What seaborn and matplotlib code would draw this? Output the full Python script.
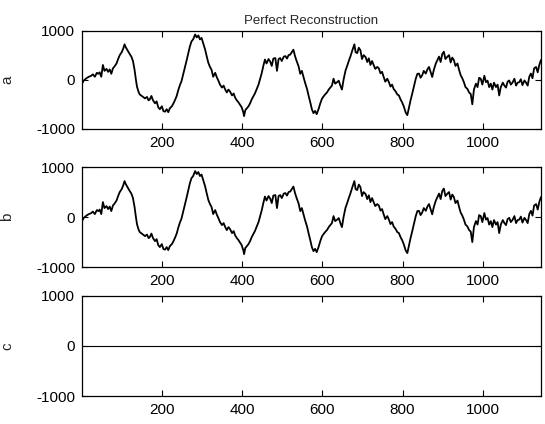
import matplotlib
matplotlib.use("Agg")
import matplotlib.pyplot as plt
import seaborn as sns
import pandas as pd

# Sample index of each recorded point
sample_idx = [
    1, 5, 12, 18, 24, 28, 33, 38, 42, 45, 49, 53, 57, 62, 66, 70, 74, 78, 82, 87,
    91, 95, 100, 104, 107, 110, 115, 120, 124, 128, 132, 135, 138, 142, 145, 150, 155, 158, 163, 167,
    170, 174, 178, 183, 187, 191, 195, 200, 204, 208, 212, 216, 220, 225, 229, 233, 237, 241, 245, 249,
    253, 258, 262, 266, 270, 274, 278, 283, 287, 291, 295, 299, 303, 308, 312, 316, 320, 324, 328, 333,
    337, 341, 345, 350, 354, 358, 362, 366, 370, 375, 379, 383, 387, 391, 395, 399, 403, 405, 408, 412,
    416, 420, 424, 428, 432, 437, 441, 445, 449, 453, 457, 461, 466, 470, 474, 478, 483, 487, 491, 495,
    499, 504, 508, 512, 516, 520, 524, 528, 532, 536, 541, 545, 549, 553, 557, 562, 566, 570, 574, 578,
    582, 586, 591, 595, 599, 603, 607, 612, 616, 620, 624, 628, 632, 637, 641, 645, 649, 653, 658, 662,
    666, 670, 675, 680, 683, 687, 691, 695, 699, 703, 708, 712, 716, 720, 724, 728, 732, 737, 741, 745,
    749, 753, 757, 762, 766, 770, 774, 778, 783, 787, 791, 795, 799, 803, 808, 812, 816, 820, 824, 828,
    833, 837, 841, 845, 849, 853, 858, 862, 866, 870, 874, 878, 883, 887, 891, 895, 899, 903, 907, 912,
    916, 920, 924, 928, 932, 937, 941, 945, 949, 953, 957, 962, 966, 970, 974, 978, 983, 987, 991, 995,
    999, 1004, 1008, 1012, 1016, 1020, 1024, 1028, 1033, 1037, 1041, 1045, 1050, 1054, 1058, 1062, 1066, 1070, 1074, 1079,
    1083, 1087, 1091, 1095, 1099, 1104, 1108, 1112, 1116, 1120, 1124, 1128, 1133, 1137, 1141, 1145,
]

# Original signal
a_values = [
    -80, -20, 30, 60, 80, 110, 60, 140, 120, 150, 60, 300, 180, 220, 160, 210, 120, 230, 270, 330,
    420, 500, 560, 640, 720, 660, 590, 520, 470, 380, 200, 20, -140, -250, -300, -330, -360, -380, -350, -420,
    -400, -330, -420, -480, -440, -560, -600, -540, -640, -650, -600, -660, -580, -540, -480, -410, -330, -210, -110, -30,
    100, 270, 400, 540, 680, 780, 820, 920, 860, 900, 820, 850, 740, 610, 470, 340, 260, 200, 60, 140,
    50, -20, -100, -160, -120, -200, -260, -200, -240, -320, -280, -370, -420, -460, -510, -560, -660, -740, -620, -580,
    -540, -480, -400, -340, -280, -180, -100, 20, 135, 280, 410, 330, 420, 370, 280, 430, 440, 180, 420, 440,
    380, 470, 480, 430, 500, 510, 560, 610, 480, 380, 270, 120, 180, 60, -60, -190, -330, -460, -600, -680,
    -635, -700, -590, -480, -390, -340, -300, -255, -200, -160, -120, 20, -80, -50, -20, -120, -200, 0, 190, 280,
    380, 470, 600, 720, 560, 540, 650, 600, 420, 500, 460, 360, 435, 300, 380, 300, 220, 260, 230, 130,
    160, 55, -40, 20, -50, -140, -100, -190, -240, -300, -320, -400, -460, -540, -670, -720, -565, -420, -290, -150,
    20, 120, 125, 40, 90, 180, 125, 210, 260, 160, 55, 200, 330, 400, 470, 360, 520, 570, 420, 470,
    500, 350, 450, 400, 280, 330, 200, 90, 30, -50, -150, -190, -260, -290, -500, -200, -80, -150, 40, 20,
    -100, 80, -50, -20, -150, -80, -200, -60, -150, -100, -320, -150, -60, -120, -160, -40, -15, -100, -60, 20,
    -120, -60, -50, 10, -110, -15, -60, -120, 60, 125, 30, 230, 260, 150, 300, 400,
]

# Reconstructed signal
b_values = list(a_values)

# Reconstruction error
c_values = [0] * len(sample_idx)

panel_names = ["a", "b", "c"]
x_ticks = [200, 400, 600, 800, 1000]
y_ticks = [-1000, 0, 1000]
y_tick_labels = ["-1000", "0", "1000"]

sns.set_style("ticks")
plt.rcParams["font.family"] = ["Liberation Sans", "DejaVu Sans"]
plt.rcParams["font.size"] = 11

fig = plt.figure(figsize=(5.45, 4.24), dpi=100)
positions = [
    [0.1505, 0.696, 0.842, 0.232],
    [0.1505, 0.370, 0.842, 0.236],
    [0.1505, 0.066, 0.842, 0.236],
]
line_widths = [1.3, 1.3, 0.8]

for name, vals, pos, lw in zip(panel_names, [a_values, b_values, c_values],
                               positions, line_widths):
    ax = fig.add_axes(pos)
    df = pd.DataFrame({"n": sample_idx, name: vals})
    sns.lineplot(data=df, x="n", y=name, ax=ax, color="black", linewidth=lw,
                 estimator=None, sort=False)
    ax.set_xlim(1, 1145)
    ax.set_ylim(-1000, 1000)
    ax.set_xticks(x_ticks)
    ax.set_xticklabels([str(t) for t in x_ticks])
    ax.set_yticks(y_ticks)
    ax.set_yticklabels(y_tick_labels)
    ax.set_xlabel("")
    ax.set_ylabel(name, fontsize=11)
    ax.yaxis.set_label_coords(-0.148, 0.5)
    ax.tick_params(direction="in", length=4, width=0.8, top=True, right=True,
                   labelsize=11, pad=5, colors="black")
    for spine in ax.spines.values():
        spine.set_visible(True)
        spine.set_color("black")
        spine.set_linewidth(0.9)
    if name == "a":
        ax.set_title("Perfect Reconstruction", fontsize=9.5, pad=5)

fig.savefig("out.png", dpi=100, facecolor="white")
